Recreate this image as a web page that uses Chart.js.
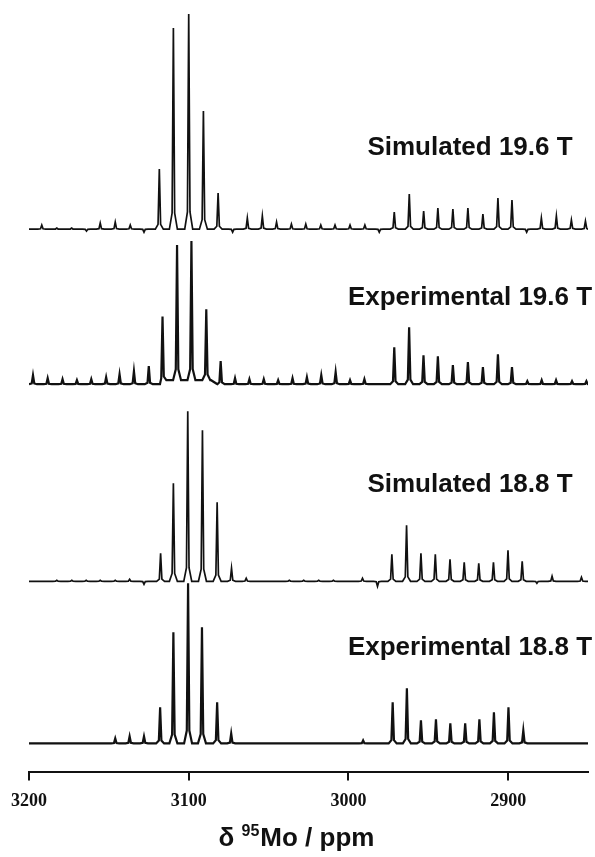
<!DOCTYPE html>
<html>
<head>
<meta charset="utf-8">
<script src="https://cdn.jsdelivr.net/npm/chart.js@4.4.1/dist/chart.umd.min.js"></script>
<style>
  body { margin: 0; background: #fff; }
  canvas { display: block; }
</style>
</head>
<body>
<canvas id="nmr" width="595" height="857"></canvas>
<script>
// tick labels of the ppm axis
var ppmTicks = [3200, 3100, 3000, 2900];

var traceNames = ['Simulated 19.6 T', 'Experimental 19.6 T', 'Simulated 18.8 T', 'Experimental 18.8 T'];

// peak positions (ppm) and intensities
var sim196Pos = [3192, 3182.6, 3173.3, 3164, 3155.4, 3146, 3136.6, 3128, 3118.4, 3109.6, 3100, 3090.8, 3081.6, 3072.5,
  3063.3, 3053.9, 3045, 3035.7, 3026.7, 3017.3, 3008.4, 2999, 2989.7, 2980.7,
  2971.3, 2961.9, 2952.9, 2944, 2934.6, 2925.2, 2915.8, 2906.4, 2897.6, 2888.4, 2879.2, 2869.8, 2860.4, 2851.6];
var sim196Int = [4, 1, 1, -2, 6, 7, 4, -3, 60, 201, 215, 118, 36, -3,
  11, 13, 7, 5, 5, 4, 4, 4, 4, -3,
  17, 35, 18, 21, 20, 21, 15, 31, 29, -3, 11, 13, 9, 8];

var exp196Pos = [3197.5, 3188.3, 3179, 3170, 3161, 3151.7, 3143.3, 3134.3, 3125, 3116.4, 3107.3, 3098.3, 3089, 3080, 3071,
  3062, 3053, 3044, 3035, 3026, 3017, 3008, 2999, 2990,
  2971.3, 2962, 2953, 2944, 2934.6, 2925.2, 2915.8, 2906.4, 2897.6, 2888, 2879, 2870, 2860, 2851];
var exp196Int = [9, 6, 5, 4, 5, 7, 10, 13, 18, 66, 135, 139, 71, 23, 6,
  5, 5, 4, 6, 7, 9, 12, 4, 5,
  37, 57, 29, 28, 19, 22, 17, 30, 17, 3, 4, 4, 3, 3];
// broad raised region under the central lines of the 19.6 T experiment: [from ppm, to ppm, height]
var exp196Hump = [3114, 3086, 4];

var sim188Pos = [3182.6, 3173.2, 3164.2, 3155.4, 3146, 3137, 3128, 3117.6, 3109.6, 3100.6, 3091.4, 3082.2, 3073.2, 3064,
  3037, 3028, 3018.6, 3009.4, 2991.2, 2981.8,
  2972.8, 2963.6, 2954.6, 2945.6, 2936.4, 2927.5, 2918.4, 2909.2, 2900.1, 2891.2, 2882, 2872.5, 2854.1];
var sim188Int = [1, 1, 1, 1, 1, 2, -3, 28, 98, 170, 151, 79, 13, 3,
  1, 1, 1, 1, 3, -5,
  27, 56, 28, 27, 22, 19, 18, 19, 31, 20, -2, 5, 4];

var exp188Pos = [3146, 3137, 3128, 3117.9, 3109.6, 3100.4, 3091.7, 3082.2, 3073.4,
  2990.8, 2972.3, 2963.4, 2954.6, 2945.2, 2936.2, 2926.9, 2918, 2908.9, 2899.8, 2890.5];
var exp188Int = [5, 7, 7, 36, 111, 160, 116, 41, 10,
  3, 41, 55, 23, 24, 20, 20, 24, 31, 36, 13];

// layout: baseline of each trace on the hidden y scale, label centres
var baselines = [543, 388, 191, 29];
var labelY = [148, 298, 485, 648];
var labelX = 470;

// line shape used for every peak (ppm offset, fraction of height)
var shapeDx = [-2.5, -0.8, 0, 0.8, 2.5];
var shapeFr = [0, 0.08, 1, 0.08, 0];
var humpRamp = 4;

function humpAt(hump, x) {
  if (!hump) return 0;
  var hi = hump[0], lo = hump[1], h = hump[2];
  if (x > hi + humpRamp || x < lo - humpRamp) return 0;
  if (x > hi) return h * (hi + humpRamp - x) / humpRamp;
  if (x < lo) return h * (x - (lo - humpRamp)) / humpRamp;
  return h;
}

function buildTrace(pos, inten, base, hump) {
  var pts = [{ x: 3200, y: base }, { x: 2850, y: base }];
  if (hump) {
    [hump[0] + humpRamp, hump[0], hump[1], hump[1] - humpRamp].forEach(function (x) {
      pts.push({ x: x, y: base });
    });
  }
  for (var i = 0; i < pos.length; i++) {
    for (var k = 0; k < shapeDx.length; k++) {
      pts.push({ x: pos[i] + shapeDx[k], y: base + inten[i] * shapeFr[k] });
    }
  }
  pts.forEach(function (p) { p.y += humpAt(hump, p.x); });
  pts.sort(function (a, b) { return b.x - a.x; });
  return pts;
}

var traces = [
  buildTrace(sim196Pos, sim196Int, baselines[0]),
  buildTrace(exp196Pos, exp196Int, baselines[1], exp196Hump),
  buildTrace(sim188Pos, sim188Int, baselines[2]),
  buildTrace(exp188Pos, exp188Int, baselines[3])
];

var labelsPlugin = {
  id: 'labels',
  afterDraw: function (chart) {
    var ctx = chart.ctx;
    ctx.save();
    ctx.fillStyle = '#111';
    ctx.textAlign = 'center';
    ctx.textBaseline = 'middle';
    ctx.font = 'bold 26px "Liberation Sans", Arial, sans-serif';
    traceNames.forEach(function (name, i) {
      ctx.fillText(name, labelX, labelY[i]);
    });

    // axis title with superscript mass number
    var big = 'bold 26px "Liberation Sans", Arial, sans-serif';
    var small = 'bold 16px "Liberation Sans", Arial, sans-serif';
    var a = '\u03b4 ', sup = '95', b = 'Mo / ppm';
    ctx.textAlign = 'left';
    ctx.textBaseline = 'alphabetic';
    ctx.font = big;
    var wa = ctx.measureText(a).width, wb = ctx.measureText(b).width;
    ctx.font = small;
    var ws = ctx.measureText(sup).width;
    var x0 = 296 - (wa + ws + wb) / 2, yb = 846;
    ctx.font = big;
    ctx.fillText(a, x0, yb);
    ctx.font = small;
    ctx.fillText(sup, x0 + wa, yb - 10);
    ctx.font = big;
    ctx.fillText(b, x0 + wa + ws + 1, yb);
    ctx.restore();
  }
};

new Chart(document.getElementById('nmr'), {
  type: 'line',
  data: {
    datasets: traces.map(function (t, i) {
      return {
        label: traceNames[i],
        data: t,
        borderColor: '#111',
        borderWidth: i % 2 === 0 ? 1.7 : 2.2,
        pointRadius: 0,
        tension: 0,
        fill: false
      };
    })
  },
  options: {
    responsive: false,
    animation: false,
    layout: { padding: { left: 29, right: 7, top: 0, bottom: 35 } },
    plugins: { legend: { display: false }, tooltip: { enabled: false } },
    scales: {
      x: {
        type: 'linear',
        reverse: true,
        min: 2850,
        max: 3200,
        afterBuildTicks: function (scale) {
          scale.ticks = ppmTicks.map(function (v) { return { value: v }; });
        },
        ticks: {
          callback: function (v) { return String(v); },
          font: { family: '"Liberation Serif", "Times New Roman", serif', weight: 'bold', size: 18 },
          color: '#111',
          padding: 10,
          maxRotation: 0,
          autoSkip: false
        },
        grid: { drawOnChartArea: false, drawTicks: true, tickLength: 8, color: '#111', lineWidth: 2 },
        border: { display: true, color: '#111', width: 2 }
      },
      y: { display: false, min: 0, max: 772 }
    }
  },
  plugins: [labelsPlugin]
});
</script>
</body>
</html>
